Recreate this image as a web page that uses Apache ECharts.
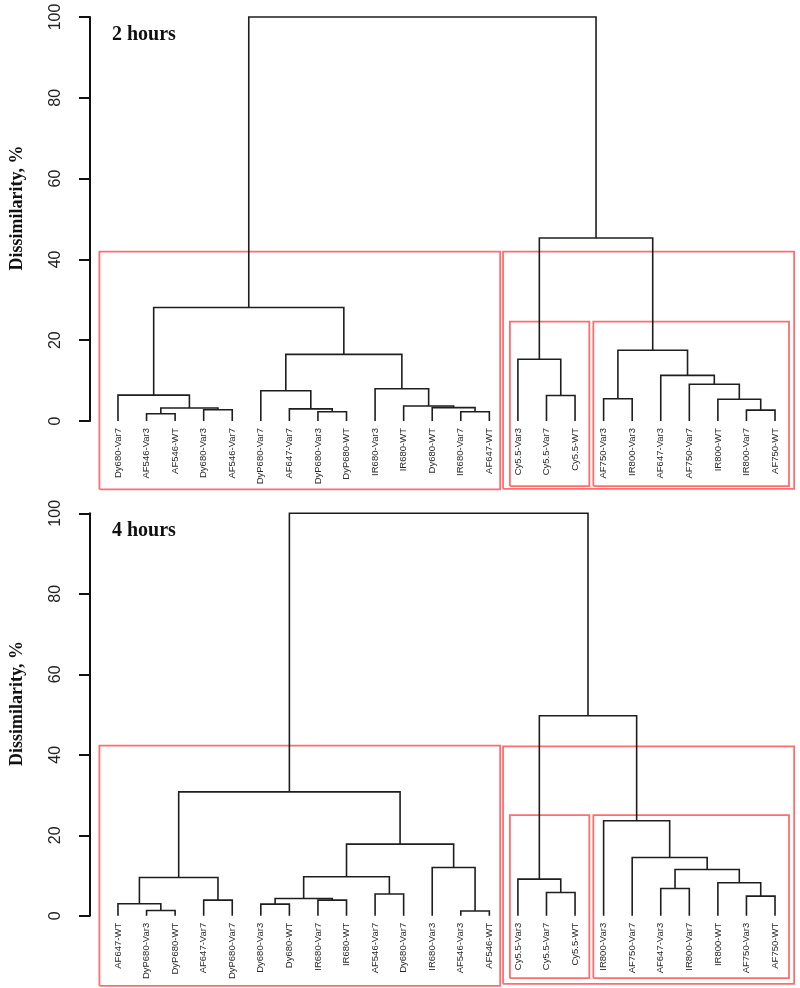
<!DOCTYPE html>
<html>
<head>
<meta charset="utf-8">
<script src="https://cdn.jsdelivr.net/npm/echarts@6/dist/echarts.min.js"></script>
<style>
html, body { margin: 0; padding: 0; background: #fff; }
#chart { width: 800px; height: 988px; }
</style>
</head>
<body>
<div id="chart"></div>
<script>
// leaf order, left to right
var leaves2h = ["Dy680-Var7", "AF546-Var3", "AF546-WT", "Dy680-Var3", "AF546-Var7",
    "DyP680-Var7", "AF647-Var7", "DyP680-Var3", "DyP680-WT", "IR680-Var3", "IR680-WT",
    "Dy680-WT", "IR680-Var7", "AF647-WT", "Cy5.5-Var3", "Cy5.5-Var7", "Cy5.5-WT",
    "AF750-Var3", "IR800-Var3", "AF647-Var3", "AF750-Var7", "IR800-WT", "IR800-Var7", "AF750-WT"];
var leaves4h = ["AF647-WT", "DyP680-Var3", "DyP680-WT", "AF647-Var7", "DyP680-Var7",
    "Dy680-Var3", "Dy680-WT", "IR680-Var7", "IR680-WT", "AF546-Var7", "Dy680-Var7",
    "IR680-Var3", "AF546-Var3", "AF546-WT", "Cy5.5-Var3", "Cy5.5-Var7", "Cy5.5-WT",
    "IR800-Var3", "AF750-Var7", "AF647-Var3", "IR800-Var7", "IR800-WT", "AF750-Var3", "AF750-WT"];

// merges like R hclust: negative = leaf number, positive = earlier merge row; third = height %
var merges2h = [[-2, -3, 1.8], [-4, -5, 2.8], [1, 2, 3.2], [-1, 3, 6.4],
    [-8, -9, 2.3], [-7, 5, 3.0], [-6, 6, 7.5], [-13, -14, 2.3], [-12, 8, 3.3],
    [-11, 9, 3.7], [-10, 10, 8.0], [7, 11, 16.5], [4, 12, 28.1],
    [-16, -17, 6.3], [-15, 14, 15.3], [-18, -19, 5.5], [-23, -24, 2.7], [-22, 17, 5.4],
    [-21, 18, 9.1], [-20, 19, 11.3], [16, 20, 17.5], [15, 21, 45.3], [13, 22, 100]];
var merges4h = [[-2, -3, 1.3], [-1, 1, 3.0], [-4, -5, 3.9], [2, 3, 9.5],
    [-6, -7, 2.9], [-8, -9, 3.9], [5, 6, 4.3], [-10, -11, 5.4], [7, 8, 9.7],
    [-13, -14, 1.2], [-12, 10, 12.0], [9, 11, 17.8], [4, 12, 30.8],
    [-16, -17, 5.8], [-15, 14, 9.1], [-20, -21, 6.8], [-23, -24, 4.9], [-22, 17, 8.2],
    [16, 18, 11.5], [-19, 19, 14.5], [-18, 20, 23.6], [15, 21, 49.7], [13, 22, 100]];

// cluster boxes: [x from, x to, y from, y to] in leaf / % units
var boxes2h = [[0.35, 14.38, -16.9, 41.9], [14.48, 24.67, -16.8, 41.9],
    [14.72, 17.5, -16.1, 24.6], [17.64, 24.49, -16.1, 24.6]];
var boxes4h = [[0.35, 14.38, -17.4, 42.3], [14.48, 24.67, -16.9, 42.1],
    [14.72, 17.5, -15.5, 25.0], [17.64, 24.49, -15.5, 25.0]];

var yTicks = [0, 20, 40, 60, 80, 100];
var panelTitles = ["2 hours", "4 hours"];

function dendroLines(merges) {
    var pos = [], ht = [], segs = [];
    function at(k) { return k < 0 ? [-k, 0] : [pos[k - 1], ht[k - 1]]; }
    merges.forEach(function (m) {
        var a = at(m[0]), b = at(m[1]);
        segs.push({coords: [[a[0], a[1]], [a[0], m[2]], [b[0], m[2]], [b[0], b[1]]]});
        pos.push((a[0] + b[0]) / 2);
        ht.push(m[2]);
    });
    return segs;
}

function boxLines(boxes) {
    return boxes.map(function (b) {
        return {coords: [[b[0], b[2]], [b[1], b[2]], [b[1], b[3]], [b[0], b[3]], [b[0], b[2]]]};
    });
}

var grids = [
    {left: 101.7, width: 687.6, top: 17, height: 404},
    {left: 101.7, width: 687.6, top: 513.3, height: 402.5}
];
var leafSets = [leaves2h, leaves4h];
var mergeSets = [merges2h, merges4h];
var boxSets = [boxes2h, boxes4h];

var xAxes = [], yAxes = [], series = [], titles = [];
grids.forEach(function (g, i) {
    xAxes.push({gridIndex: i, type: "value", min: 0.5, max: 24.5, show: false});
    xAxes.push({
        gridIndex: i, type: "category", position: "bottom", data: leafSets[i],
        boundaryGap: true,
        axisLine: {show: false}, axisTick: {show: false}, splitLine: {show: false},
        axisLabel: {rotate: 90, margin: 7, interval: 0, fontSize: 9.5, color: "#2a2a2a",
            fontFamily: "Liberation Sans"}
    });
    yAxes.push({
        gridIndex: i, type: "value", min: yTicks[0], max: yTicks[yTicks.length - 1], interval: 20,
        offset: 13.7, splitLine: {show: false},
        axisLine: {show: true, lineStyle: {color: "#111", width: 2}},
        axisTick: {show: true, length: 11, lineStyle: {color: "#111", width: 2}},
        axisLabel: {rotate: 90, margin: 26, fontSize: 16, color: "#222", fontFamily: "Liberation Sans"},
        name: "Dissimilarity, %", nameLocation: "middle", nameGap: 64, nameRotate: 90,
        nameTextStyle: {fontFamily: "Liberation Serif", fontWeight: "bold", fontSize: 18,
            color: "#111", padding: [0, 0, 0, 22]}
    });
    series.push({
        type: "lines", coordinateSystem: "cartesian2d", polyline: true,
        xAxisIndex: i * 2, yAxisIndex: i, clip: false, silent: true,
        lineStyle: {color: "#ff6e6e", width: 1.8, opacity: 1},
        data: boxLines(boxSets[i])
    });
    series.push({
        type: "lines", coordinateSystem: "cartesian2d", polyline: true,
        xAxisIndex: i * 2, yAxisIndex: i, clip: false, silent: true,
        lineStyle: {color: "#1e1e1e", width: 1.6, opacity: 1},
        data: dendroLines(mergeSets[i])
    });
    titles.push({
        text: panelTitles[i], left: 107, top: g.top + 3,
        textStyle: {fontFamily: "Liberation Serif", fontWeight: "bold", fontSize: 20, color: "#111"}
    });
});

var chart = echarts.init(document.getElementById("chart"), null, {renderer: "canvas"});
chart.setOption({
    animation: false,
    backgroundColor: "#fff",
    title: titles,
    grid: grids,
    xAxis: xAxes,
    yAxis: yAxes,
    series: series
});
</script>
</body>
</html>
